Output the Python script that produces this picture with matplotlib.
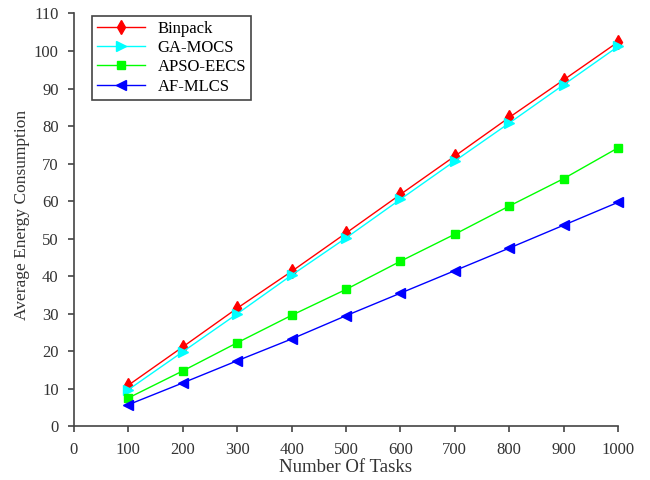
import matplotlib
matplotlib.use("Agg")
import matplotlib.pyplot as plt

plt.rcParams["font.family"] = ["Liberation Serif", "DejaVu Serif"]

tasks = [100, 200, 300, 400, 500, 600, 700, 800, 900, 1000]
binpack = [11.0, 21.2, 31.5, 41.3, 51.5, 61.8, 72.0, 82.3, 92.3, 102.4]
ga_mocs = [9.8, 19.9, 30.0, 40.3, 50.2, 60.5, 70.7, 80.8, 91.0, 101.2]
apso_eecs = [7.6, 14.8, 22.3, 29.6, 36.5, 44.0, 51.2, 58.7, 66.0, 74.2]
af_mlcs = [5.8, 11.6, 17.5, 23.3, 29.5, 35.5, 41.5, 47.5, 53.6, 59.7]

series = [
    ("Binpack", binpack, "red", "d", 7),
    ("GA-MOCS", ga_mocs, "cyan", ">", 6.5),
    ("APSO-EECS", apso_eecs, "lime", "s", 5.5),
    ("AF-MLCS", af_mlcs, "blue", "<", 6.5),
]

fig = plt.figure(figsize=(6.5, 4.8), dpi=100)
ax = fig.add_axes([0.1138, 0.1115, 0.8370, 0.8605])

for name, values, color, marker, size in series:
    ax.plot(
        tasks,
        values,
        color=color,
        marker=marker,
        markersize=size,
        linewidth=1,
        label=name,
        clip_on=False,
    )

ax.set_xlim(0, 1000)
ax.set_ylim(0, 110)
ax.set_xticks(range(0, 1001, 100))
ax.set_yticks(range(0, 111, 10))
for side in ["top", "right"]:
    ax.spines[side].set_visible(False)
for side in ["left", "bottom"]:
    ax.spines[side].set_color("#444444")
    ax.spines[side].set_linewidth(1.2)
ax.tick_params(colors="#444444", labelcolor="#333333", labelsize=12,
               length=4, width=1.2, pad=7)
ax.set_xlabel("Number Of Tasks", fontsize=13.5, color="#333333")
ax.set_ylabel("Average Energy Consumption", fontsize=12.5, color="#333333")
ax.xaxis.set_label_coords(0.499, -0.079)
ax.yaxis.set_label_coords(-0.08, 0.512)

leg = ax.legend(
    loc="upper left",
    bbox_to_anchor=(0.033, 0.995),
    borderaxespad=0,
    fontsize=12,
    fancybox=False,
    framealpha=1,
    edgecolor="#444444",
    handlelength=2.9,
    handletextpad=0.75,
    borderpad=0.3,
    labelspacing=0.2,
)
leg.get_frame().set_linewidth(1.2)

fig.savefig("out.png", dpi=100)
